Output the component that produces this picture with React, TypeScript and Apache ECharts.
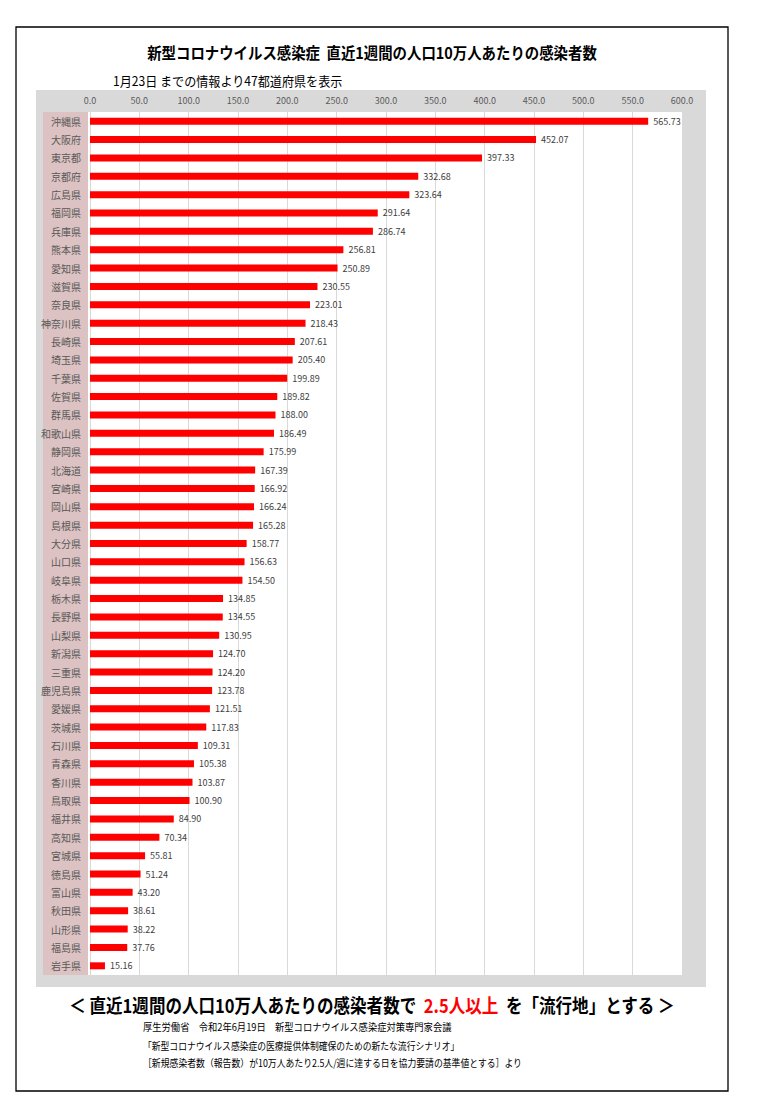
import React, { useEffect, useRef } from "react";
import * as echarts from "echarts";

const prefectures = [
  "沖縄県", "大阪府", "東京都", "京都府", "広島県", "福岡県", "兵庫県", "熊本県",
  "愛知県", "滋賀県", "奈良県", "神奈川県", "長崎県", "埼玉県", "千葉県", "佐賀県",
  "群馬県", "和歌山県", "静岡県", "北海道", "宮崎県", "岡山県", "島根県", "大分県",
  "山口県", "岐阜県", "栃木県", "長野県", "山梨県", "新潟県", "三重県", "鹿児島県",
  "愛媛県", "茨城県", "石川県", "青森県", "香川県", "鳥取県", "福井県", "高知県",
  "宮城県", "徳島県", "富山県", "秋田県", "山形県", "福島県", "岩手県",
];

const values = [
  565.73, 452.07, 397.33, 332.68, 323.64, 291.64, 286.74, 256.81,
  250.89, 230.55, 223.01, 218.43, 207.61, 205.4, 199.89, 189.82,
  188.0, 186.49, 175.99, 167.39, 166.92, 166.24, 165.28, 158.77,
  156.63, 154.5, 134.85, 134.55, 130.95, 124.7, 124.2, 123.78,
  121.51, 117.83, 109.31, 105.38, 103.87, 100.9, 84.9, 70.34,
  55.81, 51.24, 43.2, 38.61, 38.22, 37.76, 15.16,
];

const axisMin = 0;
const axisMax = 600;
const axisInterval = 50;

const titleText = "新型コロナウイルス感染症  直近1週間の人口10万人あたりの感染者数";
const subtitleText = "1月23日 までの情報より47都道府県を表示";
const footerMainA = "＜ 直近1週間の人口10万人あたりの感染者数で  ";
const footerMainRed = "2.5人以上";
const footerMainB = "  を「流行地」とする ＞";
const footerLines = [
  "厚生労働省　令和2年6月19日　新型コロナウイルス感染症対策専門家会議",
  "「新型コロナウイルス感染症の医療提供体制確保のための新たな流行シナリオ」",
  "［新規感染者数（報告数）が10万人あたり2.5人/週に達する日を協力要請の基準値とする］より",
];

const FONT = '"Noto Sans CJK JP", "Noto Sans", sans-serif';

function textEl(
  text: string,
  x: number,
  y: number,
  size: number,
  weight: string,
  align: string,
  scaleX: number,
  fill = "#000"
) {
  return {
    type: "text",
    x,
    y,
    scaleX,
    z: 20,
    style: {
      text,
      fill,
      fontSize: size,
      fontWeight: weight,
      fontFamily: FONT,
      textAlign: align,
      textVerticalAlign: "middle",
      align,
      verticalAlign: "middle",
    },
  };
}

export default function App() {
  const ref = useRef<HTMLDivElement>(null);

  useEffect(() => {
    if (!ref.current) return;
    const chart = echarts.init(ref.current, null, {
      renderer: "svg",
      width: 761,
      height: 1103,
    });

    const graphics: any[] = [
      {
        type: "rect",
        z: -10,
        shape: { x: 16, y: 27, width: 712, height: 1064 },
        style: { fill: "#fff", stroke: "#000", lineWidth: 1.3 },
      },
      {
        type: "rect",
        z: -9,
        shape: { x: 36, y: 90, width: 670, height: 897 },
        style: { fill: "#d9d9d9" },
      },
      {
        type: "rect",
        z: -8,
        shape: { x: 43, y: 112, width: 45, height: 863 },
        style: { fill: "#dcc2c2" },
      },
      {
        type: "rect",
        z: -8,
        shape: { x: 88, y: 112, width: 594, height: 863 },
        style: { fill: "#ffffff" },
      },
      textEl(titleText, 372, 52, 16, "bold", "center", 0.9),
      textEl(subtitleText, 113, 80, 13, "normal", "left", 0.93),
      {
        type: "text",
        x: 372,
        y: 1004,
        scaleX: 0.87,
        z: 20,
        style: {
          text: `{b|${footerMainA}}{r|${footerMainRed}}{b|${footerMainB}}`,
          textAlign: "center",
          textVerticalAlign: "middle",
          align: "center",
          verticalAlign: "middle",
          fontSize: 19,
          fontWeight: "bold",
          fontFamily: FONT,
          fill: "#000",
          rich: {
            b: { fontSize: 19, fontWeight: "bold", fontFamily: FONT, fill: "#000", color: "#000" },
            r: { fontSize: 19, fontWeight: "bold", fontFamily: FONT, fill: "#ff0000", color: "#ff0000" },
          },
        },
      },
      textEl(footerLines[0], 143, 1027, 10, "normal", "left", 0.93),
      textEl(footerLines[1], 143, 1046, 10, "normal", "left", 0.88),
      textEl(footerLines[2], 143, 1063, 10, "normal", "left", 0.885),
    ];

    chart.setOption({
      animation: false,
      backgroundColor: "#fff",
      textStyle: { fontFamily: FONT },
      graphic: { elements: graphics },
      grid: { left: 90, right: 79, top: 112, bottom: 128, containLabel: false },
      xAxis: {
        type: "value",
        position: "top",
        min: axisMin,
        max: axisMax,
        interval: axisInterval,
        axisLine: { show: false },
        axisTick: { show: false },
        axisLabel: {
          formatter: (v: number) => v.toFixed(1),
          color: "#595959",
          fontSize: 9,
          margin: 7,
          fontFamily: FONT,
        },
        splitLine: { show: true, lineStyle: { color: "#d9d9d9", width: 1 } },
      },
      yAxis: {
        type: "category",
        data: prefectures,
        inverse: true,
        axisLine: { show: false },
        axisTick: { show: false },
        splitLine: { show: false },
        axisLabel: {
          color: "#595959",
          fontSize: 10,
          margin: 9,
          fontFamily: FONT,
          interval: 0,
        },
      },
      series: [
        {
          type: "bar",
          data: values,
          barWidth: 7,
          itemStyle: { color: "#ff0000" },
          label: {
            show: true,
            position: "right",
            distance: 5,
            formatter: (p: any) => Number(p.value).toFixed(2),
            fontSize: 9,
            color: "#404040",
            fontFamily: FONT,
          },
        },
      ],
    });

    return () => chart.dispose();
  }, []);

  return (
    <div
      ref={ref}
      style={{
        position: "absolute",
        left: 0,
        top: 0,
        width: 761,
        height: 1103,
        background: "#fff",
      }}
    />
  );
}
